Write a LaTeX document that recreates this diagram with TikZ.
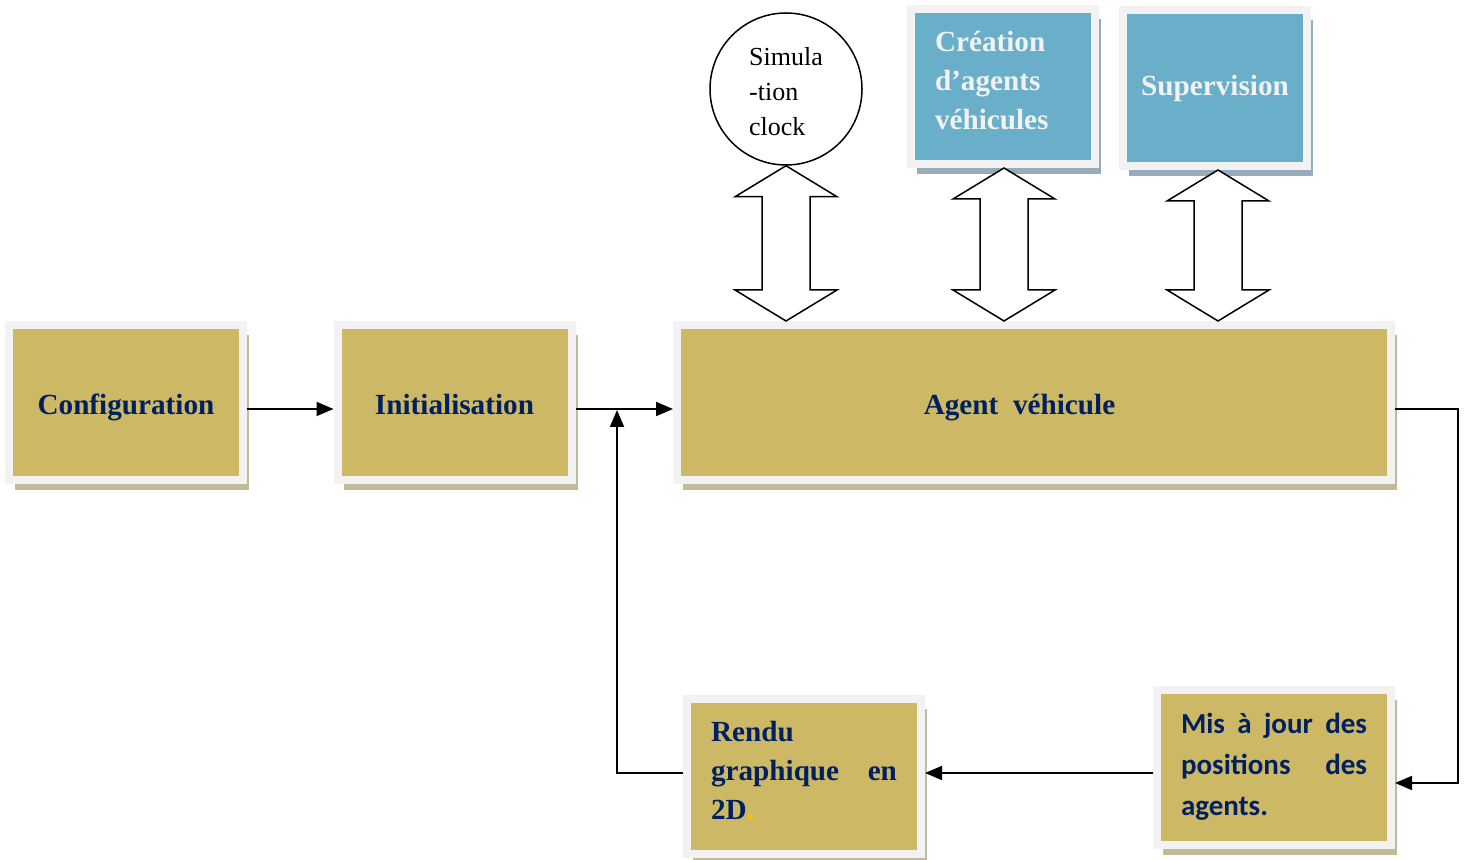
\documentclass[tikz,border=0pt]{standalone}
\usepackage{fontspec}
\setmainfont{Liberation Serif}
\newfontfamily\calibri{Carlito}
\usetikzlibrary{calc,positioning,arrows.meta,shadows}

\definecolor{boxgold}{RGB}{205,184,102}
\definecolor{boxblue}{RGB}{106,175,202}
\definecolor{framegray}{RGB}{242,242,242}
\definecolor{navy}{RGB}{0,32,96}
\definecolor{shadowgold}{RGB}{196,186,152}
\definecolor{shadowblue}{RGB}{150,172,186}
\definecolor{dotyellow}{RGB}{255,192,0}

\begin{document}
\begin{tikzpicture}[x=0.5pt,y=-0.5pt,>={Triangle[length=8.5pt,width=7pt]},
  box/.style={draw=framegray,line width=4pt,fill=boxgold,inner sep=0pt,
    minimum width=117pt,minimum height=77.5pt,text=navy,
    font=\fontsize{14.6}{19.5}\selectfont\bfseries,
    drop shadow={shadow xshift=3pt,shadow yshift=-5pt,fill=shadowgold,opacity=1}},
  oneline/.style={text height=14pt,text depth=1.5pt},
  multi/.style={align=left,inner sep=0pt,text=navy,
    font=\fontsize{14.6}{19.5}\selectfont\bfseries},
  bluebox/.style={box,fill=boxblue,text=framegray,minimum width=92pt,
    drop shadow={shadow xshift=3pt,shadow yshift=-5pt,fill=shadowblue,opacity=1}},
  clk/.style={circle,draw,line width=0.75pt,minimum size=76pt,inner sep=0pt},
  hollow/.style={draw,fill=white,line width=0.75pt,line join=miter},
  flow/.style={->,line width=0.9pt}]
  \useasboundingbox (0,0) rectangle (1467,860);

  \node[box,oneline] (conf) at (126,402.5) {Configuration};
  \node[box,oneline] (init) at (454.5,402.5) {Initialisation};
  \node[box,oneline,minimum width=357pt] (agent) at (1034,402.5)
    {Agent~~véhicule\hspace*{14.5pt}};
  \node[box,label={[multi,text width=93pt,yshift=3pt]center:
      {Rendu\\graphique\hfill en\\2D{\color{dotyellow}.}}}] (rendu) at (804,776.5) {};
  \node[box,text width=93pt,align=left,font=\calibri\fontsize{14.5}{20.5}\selectfont\bfseries]
    (mis) at (1274,767) {Mis\hfill à\hfill jour\hfill des\\positions\hfill des\\agents.};

  \node[clk,label={[align=left,inner sep=0pt,font=\fontsize{13}{17.5}\selectfont,
      yshift=-1.5pt]center:{Simula\\-tion\\clock}}] (clock) at (786,89) {};
  \node[bluebox,label={[multi,text=framegray,text width=68pt,yshift=3pt]center:
      {Création\\d’agents\\véhicules}}] (creation) at (1003,86.5) {};
  \node[bluebox,minimum height=78pt] (supervision) at (1215,88) {Supervision};

  % double arrows between the top row and the agent
  \foreach \n/\dx in {clock/0,creation/1,supervision/3}{
    \coordinate (\n-top) at ([xshift=\dx*0.5pt]\n.south);
    \coordinate (\n-foot) at (\n-top |- agent.north);
    \draw[hollow] (\n-top) -- ++(51,31) -- ++(-27,0) -- ($(\n-foot)+(24,-31)$)
      -- ++(27,0) -- (\n-foot) -- ++(-51,-31) -- ++(27,0)
      -- ($(\n-top)+(-24,31)$) -- ++(-27,0) -- cycle;
  }

  \coordinate (join) at (617,410);
  \draw[flow] ([yshift=-3.25pt]conf.east) -- ([yshift=-3.25pt]init.west);
  \draw[flow] ([yshift=-3.25pt]init.east) -- ([yshift=-3.25pt]agent.west);
  \draw[flow] ([yshift=-3.25pt]agent.east) -- ++(63,0) |- ([yshift=-8pt]mis.east);
  \draw[flow] ([yshift=-3pt]mis.west) -- ([yshift=1.75pt]rendu.east);
  \draw[flow] ([yshift=1.75pt]rendu.west) -| (join);
\end{tikzpicture}
\end{document}
